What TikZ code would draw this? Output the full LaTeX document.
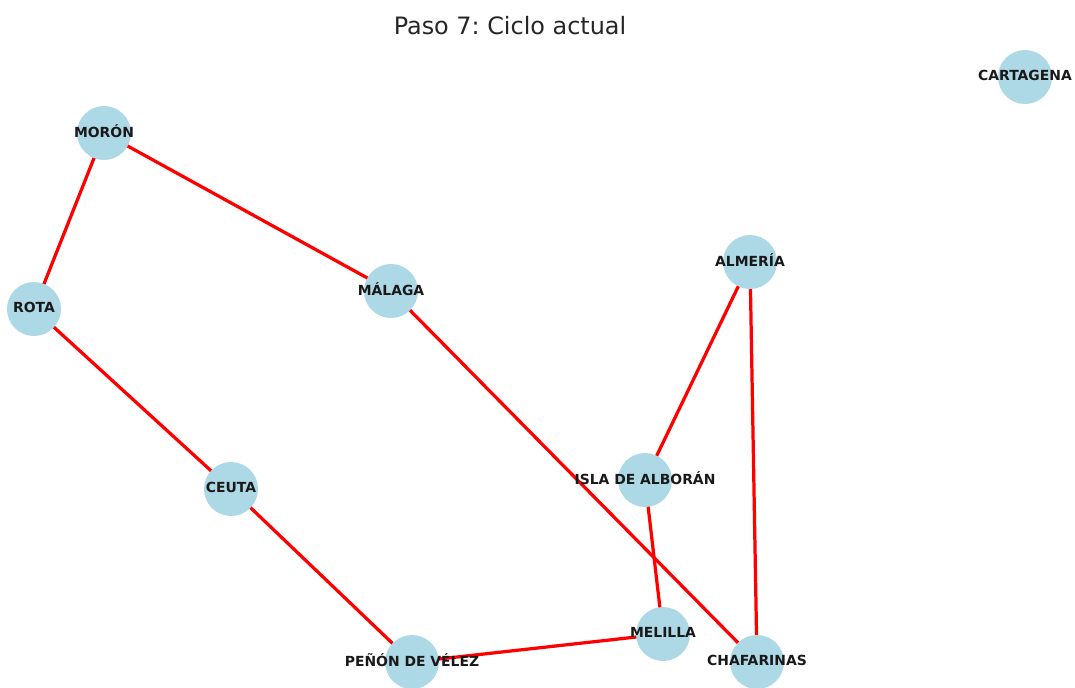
\documentclass[tikz,border=0pt]{standalone}
\usepackage{fontspec}
\setmainfont{DejaVu Sans}
\usepackage{xcolor}
\usetikzlibrary{backgrounds}
\definecolor{hellblau}{RGB}{173,216,230}
\definecolor{titelgrau}{RGB}{38,38,38}
\frenchspacing
\tikzset{
  Beschr/.style={font=\bfseries\fontsize{9.9}{11}\selectfont, text=black!90, yshift=0.05cm}, % Ortsnamen
  Ort/.style={circle, fill=hellblau, minimum size=1.35cm, inner sep=0pt,
    label={[Beschr]center:#1}}, % Knoten
  Kante/.style={red, line width=2.3pt} % Kanten des Zyklus
}

\begin{document}
\begin{tikzpicture}[x=0.025cm, y=-0.025cm]
\useasboundingbox (0,0) rectangle (1075,687);

%Titel
\node[text=titelgrau, font=\fontsize{17}{20}\selectfont] (titel) at (510,26) {Paso 7: Ciclo actual};

%Knoten
\node[Ort=CARTAGENA] (cartagena) at (1025,77) {};
\node[Ort=MORÓN] (moron) at (104,133) {};
\node[Ort=ALMERÍA] (almeria) at (750,262) {};
\node[Ort=MÁLAGA] (malaga) at (391,291) {};
\node[Ort=ROTA] (rota) at (34,309) {};
\node[Ort=CEUTA] (ceuta) at (231,489) {};
\node[Ort=ISLA DE ALBORÁN] (alboran) at (645,480) {};
\node[Ort=MELILLA] (melilla) at (663,634) {};
\node[Ort=PEÑÓN DE VÉLEZ] (penon) at (412,662) {};
\node[Ort=CHAFARINAS] (chafarinas) at (757,662) {};

%Kanten
\begin{scope}[on background layer]
\draw[Kante] (moron.center) -- (rota.center);
\draw[Kante] (moron.center) -- (malaga.center);
\draw[Kante] (rota.center) -- (ceuta.center);
\draw[Kante] (ceuta.center) -- (penon.center);
\draw[Kante] (penon.center) -- (melilla.center);
\draw[Kante] (melilla.center) -- (alboran.center);
\draw[Kante] (alboran.center) -- (almeria.center);
\draw[Kante] (almeria.center) -- (chafarinas.center);
\draw[Kante] (chafarinas.center) -- (malaga.center);
\end{scope}

\end{tikzpicture}
\end{document}
